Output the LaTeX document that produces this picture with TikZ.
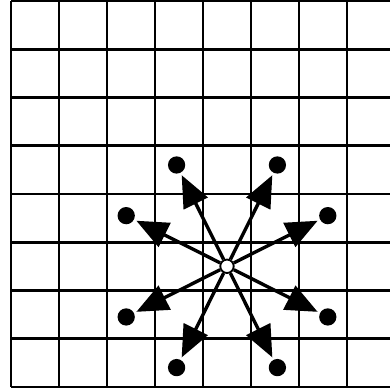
\documentclass[tikz,border=0pt]{standalone}
\usepackage{tikz}
\usetikzlibrary{arrows.meta, calc}
\tikzset{
    grid_line/.style={line width=1.6pt, draw=black},
    move_arrow/.style={-{Triangle[length=0.66cm, width=0.55cm]}, line width=2pt, draw=black, shorten >=0.05cm},
    target/.style={circle, fill=black, minimum size=0.36cm, inner sep=0pt},
    origin/.style={circle, draw=black, fill=white, line width=1.1pt, minimum size=0.28cm, inner sep=0pt}
}

\begin{document}
\begin{tikzpicture}[x=1cm, y=1.005cm]
\useasboundingbox (-0.229, -0.04) rectangle (7.896, 8.02);

\foreach \y in {0,...,8} {
    \draw[grid_line] (0, \y) -- (7.896, \y);
}
\foreach \x in {0,...,7} {
    \draw[grid_line] (\x, 0) -- (\x, 8);
}

\node[origin] (start) at (4.5, 2.5) {};

\foreach \i/\dx/\dy in {1/-1/2, 2/1/2, 3/-2/1, 4/2/1, 5/-2/-1, 6/2/-1, 7/-1/-2, 8/1/-2} {
    \node[target] (move\i) at ($(start) + 1.05*(\dx, \dy)$) {};
}

\foreach \i in {1,...,8} {
    \draw[move_arrow] (start) -- (move\i);
}
\end{tikzpicture}
\end{document}
